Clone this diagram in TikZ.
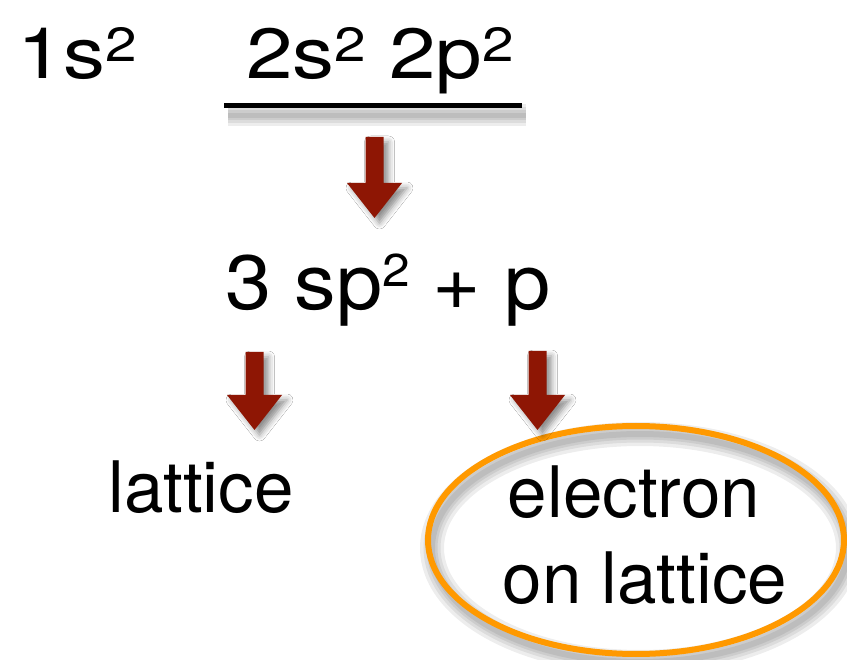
\documentclass[tikz,border=0pt]{standalone}
\usepackage{fontspec}
\setmainfont{TeX Gyre Heros}
\usetikzlibrary{shapes.geometric,shadows.blur}
\definecolor{arrowred}{RGB}{142,22,4}
\definecolor{ovalorange}{RGB}{255,153,0}
\newcommand\suptwo[2]{\raisebox{#2}{\fontsize{#1}{#1}\selectfont 2}}
\tikzset{
  bigtext/.style={inner sep=0pt, anchor=base, font=\fontsize{71}{85}\selectfont},
  midtext/.style={inner sep=0pt, anchor=base, font=\fontsize{77}{90}\selectfont},
  pics/blockarrow/.style={code={
    \fill[arrowred, blur shadow={shadow xshift=5pt, shadow yshift=-5pt, shadow blur radius=6pt, shadow opacity=45}]
      (-9,-#1) -- (9,-#1) -- (9,-35) -- (27.5,-35) -- (0,0) -- (-27.5,-35) -- (-9,-35) -- cycle;
  }},
  softshadow/.style={draw=black, opacity=0.07}
}
\begin{document}
\begin{tikzpicture}[x=1pt,y=-1pt]
\useasboundingbox (0,0) rectangle (847,660);
\fill[white] (0,0) rectangle (847,660);

% texts
\node[bigtext] (ones) at (77,79) {\scalebox{1.18}[1]{1s\suptwo{48}{17pt}}};
\node[bigtext] (twos) at (380,79) {\scalebox{1.18}[1]{2s\suptwo{48}{17pt} 2p\suptwo{48}{17pt}}};
\node[midtext] (hyb) at (388,310) {\scalebox{1.08}[1]{3 sp\suptwo{46}{23pt} + p}};
\node[bigtext] (lat) at (201,513) {lattice};

% underline with soft shadow
\coordinate (ulA) at (224,105.5);
\coordinate (ulB) at (522,105.5);
\foreach \w in {22,16,10,5}{
  \draw[softshadow, line width=\w pt] ([shift={(4,10)}]ulA) -- ([shift={(4,10)}]ulB);
}
\draw[line width=5pt] (ulA) -- (ulB);

% oval with soft shadow
\foreach \w in {24,17,11,6}{
  \draw[softshadow, line width=\w pt] (640,548) ellipse [x radius=208, y radius=114];
}
\node[ellipse, draw=ovalorange, line width=6pt, fill=none, minimum width=416pt, minimum height=228pt, inner sep=0pt] (oval) at (636,540) {};

\node[bigtext] (el1) at (634,518) {electron};
\node[bigtext] (el2) at (645,603) {on lattice};

% block arrows
\pic (arrA) at (374.5,218) {blockarrow=81};
\pic (arrB) at (254.5,430) {blockarrow=78};
\pic (arrC) at (537.5,430) {blockarrow=79};
\end{tikzpicture}
\end{document}
